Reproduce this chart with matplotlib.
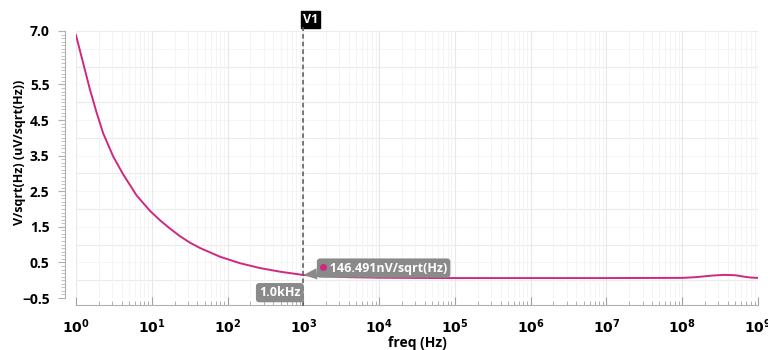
import matplotlib
matplotlib.use("Agg")
import matplotlib.pyplot as plt
from matplotlib.ticker import MultipleLocator, LogLocator, NullFormatter

plt.rcParams['font.family'] = ['Open Sans', 'DejaVu Sans']

# Data
freq = [1, 1.25, 1.53, 1.875, 2.29, 3.09, 4.17, 6.31, 9.46, 12.9, 17.4,
        23.4, 31.6, 43.7, 79.4, 144.5, 269, 490, 1000, 2000, 4000, 1e4,
        3.16e4, 1e5, 1e6, 1e7, 1e8, 1.5e8, 2.5e8, 3.6e8, 5e8, 6.5e8, 8e8, 1e9]
noise = [6.88, 6.08, 5.35, 4.70, 4.12, 3.48, 2.98, 2.38, 1.95, 1.68, 1.45,
         1.24, 1.06, 0.90, 0.66, 0.48, 0.34, 0.24, 0.146, 0.11, 0.085, 0.07,
         0.064, 0.06, 0.06, 0.06, 0.065, 0.085, 0.13, 0.15, 0.14, 0.10, 0.075, 0.065]
ytick_vals = [-0.5, 0.5, 1.5, 2.5, 3.5, 4.5, 5.5, 7.0]
xtick_vals = [1e0, 1e1, 1e2, 1e3, 1e4, 1e5, 1e6, 1e7, 1e8, 1e9]
xtick_labels = [r'$\mathbf{10^{%d}}$' % i for i in range(10)]
cursor_f = 1000
cursor_val = 0.146
cursor_name = 'V1'
cursor_xlabel = '1.0kHz'
cursor_ylabel = '146.491nV/sqrt(Hz)'

color = '#d0287f'

W, H = 768, 350
fig = plt.figure(figsize=(7.68, 3.5), dpi=100)
ax = fig.add_axes([76/W, 52/H, (758-76)/W, (298-31)/H])
ax.set_xscale('log')
ax.set_xlim(1, 1e9)
ax.set_ylim(-0.5, 7.0)

ax.plot(freq, noise, color=color, lw=1.4, zorder=3, solid_joinstyle='round')

# grid
ax.set_yticks(ytick_vals)
ax.yaxis.set_minor_locator(MultipleLocator(0.1))
for v in range(0, 8):
    ax.axhline(v, color='#ebebeb', lw=0.8, zorder=0)
for v in [x + 0.5 for x in range(-1, 7)]:
    ax.axhline(v, color='#f4f4f4', lw=0.6, zorder=0)
ax.xaxis.set_minor_locator(LogLocator(base=10, subs=range(2, 10), numticks=100))
ax.xaxis.set_minor_formatter(NullFormatter())
ax.grid(True, which='major', axis='x', color='#e8e8e8', lw=0.8)
ax.grid(True, which='minor', axis='x', color='#f3f3f3', lw=0.6)
ax.set_axisbelow(True)

ax.set_xticks(xtick_vals)
ax.set_xticklabels(xtick_labels)

for s in ['top', 'right']:
    ax.spines[s].set_visible(False)
ax.spines['left'].set_position(('outward', 8))
ax.spines['bottom'].set_position(('outward', 5))
ax.spines['left'].set_color('#b0b0b0')
ax.spines['bottom'].set_color('#b0b0b0')

ax.tick_params(axis='y', which='major', length=5, color='#b0b0b0', labelsize=10, pad=6)
ax.tick_params(axis='y', which='minor', length=3, color='#b8b8b8')
ax.tick_params(axis='x', which='major', length=6, direction='in', color='#a0a0a0', labelsize=10, pad=10)
ax.tick_params(axis='x', which='minor', length=3, direction='in', color='#a0a0a0')
for lab in ax.get_yticklabels():
    lab.set_fontweight('bold')

fig.text(20/W, 1 - 152/H, 'V/sqrt(Hz) (uV/sqrt(Hz))', rotation=90, ha='center', va='center',
         fontsize=9, fontweight='bold')
fig.text(417/W, 1 - 343/H, 'freq (Hz)', ha='center', va='center',
         fontsize=10, fontweight='bold')

# cursor line
ax.plot([cursor_f, cursor_f], [-0.72, 7.1], ls=(0, (3, 2)), color='#555555', lw=1.1,
        clip_on=False, zorder=4)
ax.annotate(cursor_name, xy=(cursor_f, 7.1), xycoords='data',
            xytext=(0, 1), textcoords='offset points', ha='left', va='bottom',
            fontsize=9, fontweight='bold', color='white',
            bbox=dict(boxstyle='square,pad=0.15', fc='black', ec='black'),
            annotation_clip=False)
ax.annotate(cursor_xlabel, xy=(cursor_f, -0.35), xycoords='data',
            xytext=(-2, 0), textcoords='offset points', ha='right', va='center',
            fontsize=9, fontweight='bold', color='white',
            bbox=dict(boxstyle='round,pad=0.25', fc='#8a8a8a', ec='none'),
            annotation_clip=False, zorder=5)

# value marker annotation
ax.annotate('   ' + cursor_ylabel, xy=(cursor_f, cursor_val), xycoords='data',
            xytext=(12, 5), textcoords='offset points', ha='left', va='center',
            fontsize=9, fontweight='bold', color='white',
            bbox=dict(boxstyle='round,pad=0.25', fc='#8a8a8a', ec='none'),
            arrowprops=dict(arrowstyle='wedge,tail_width=0.9', fc='#8a8a8a', ec='none',
                            shrinkA=0, shrinkB=0),
            zorder=6)
ax.plot([1800], [0.36], marker='o', ms=4, color=color, zorder=7, clip_on=False)

fig.savefig('out.png', dpi=100)
